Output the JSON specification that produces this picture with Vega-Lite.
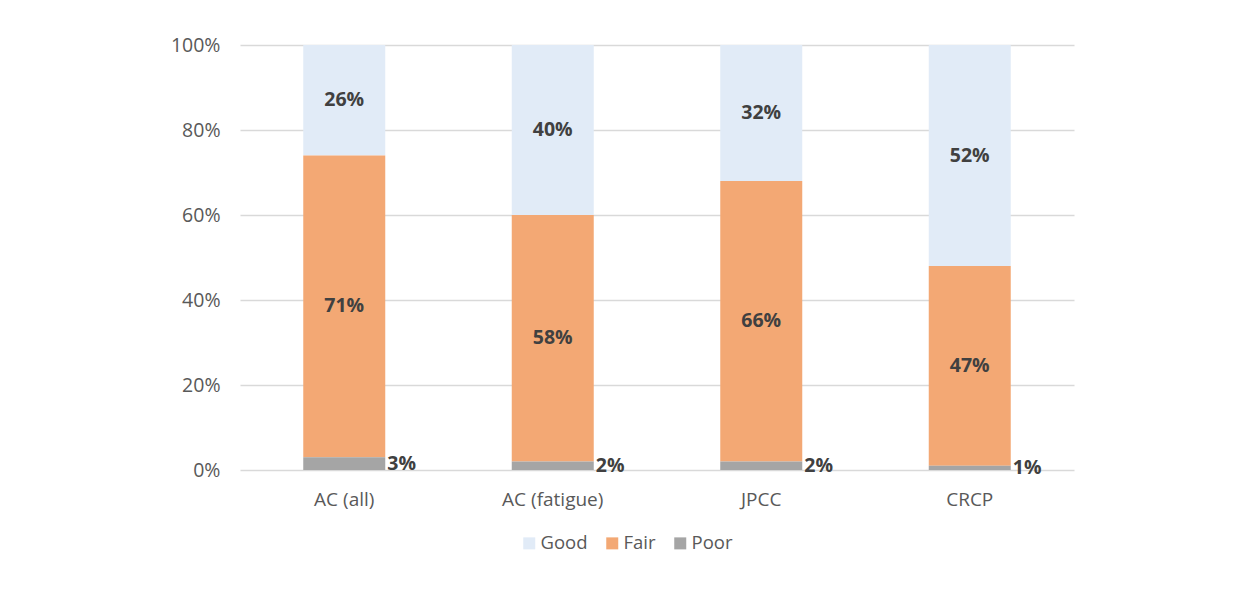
{
  "$schema": "https://vega.github.io/schema/vega-lite/v6.json",
  "width": 834,
  "height": 425,
  "autosize": {"type": "none"},
  "padding": {"left": 240, "top": 45, "right": 175, "bottom": 128},
  "background": "white",
  "config": {"view": {"stroke": null}, "font": "Open Sans"},
  "data": {
    "values": [
      {"type": "AC (all)", "rating": "Good", "share": 0.26, "ord": 3},
      {"type": "AC (all)", "rating": "Fair", "share": 0.71, "ord": 2},
      {"type": "AC (all)", "rating": "Poor", "share": 0.03, "ord": 1},
      {"type": "AC (fatigue)", "rating": "Good", "share": 0.40, "ord": 3},
      {"type": "AC (fatigue)", "rating": "Fair", "share": 0.58, "ord": 2},
      {"type": "AC (fatigue)", "rating": "Poor", "share": 0.02, "ord": 1},
      {"type": "JPCC", "rating": "Good", "share": 0.32, "ord": 3},
      {"type": "JPCC", "rating": "Fair", "share": 0.66, "ord": 2},
      {"type": "JPCC", "rating": "Poor", "share": 0.02, "ord": 1},
      {"type": "CRCP", "rating": "Good", "share": 0.52, "ord": 3},
      {"type": "CRCP", "rating": "Fair", "share": 0.47, "ord": 2},
      {"type": "CRCP", "rating": "Poor", "share": 0.01, "ord": 1}
    ]
  },
  "encoding": {
    "x": {
      "field": "type",
      "type": "nominal",
      "sort": ["AC (all)", "AC (fatigue)", "JPCC", "CRCP"],
      "axis": {
        "title": null,
        "labelAngle": 0,
        "domain": false,
        "ticks": false,
        "labelPadding": 20,
        "labelFontSize": 19,
        "labelColor": "#595959",
        "labelFont": "Open Sans"
      }
    }
  },
  "layer": [
    {
      "mark": {"type": "bar", "size": 82},
      "encoding": {
        "y": {
          "field": "share",
          "type": "quantitative",
          "stack": "zero",
          "scale": {"domain": [0, 1]},
          "axis": {
            "title": null,
            "values": [0, 0.2, 0.4, 0.6, 0.8, 1],
            "format": ".0%",
            "domain": false,
            "ticks": false,
            "labelPadding": 20,
            "labelFontSize": 19.5,
            "labelColor": "#595959",
            "gridColor": "#d9d9d9",
            "gridWidth": 1.3
          }
        },
        "color": {
          "field": "rating",
          "type": "nominal",
          "scale": {"domain": ["Good", "Fair", "Poor"], "range": ["#e1ebf7", "#f3a874", "#a5a5a5"]},
          "legend": {
            "title": null,
            "orient": "none",
            "direction": "horizontal",
            "legendX": 280,
            "legendY": 489,
            "padding": 0,
            "symbolType": "square",
            "symbolSize": 144,
            "symbolStrokeWidth": 0,
            "labelFontSize": 18.5,
            "labelColor": "#595959",
            "labelOffset": 2,
            "columnPadding": 15
          }
        },
        "order": {"field": "ord", "type": "quantitative"}
      }
    },
    {
      "mark": {"type": "text", "fontWeight": "bold", "fontSize": 19.5, "color": "#404040", "baseline": "middle"},
      "encoding": {
        "y": {"field": "share", "type": "quantitative", "stack": "zero", "bandPosition": 0.5},
        "order": {"field": "ord", "type": "quantitative"},
        "text": {"field": "share", "type": "quantitative", "format": ".0%"},
        "opacity": {"condition": {"test": "datum.rating === 'Poor'", "value": 0}, "value": 1}
      }
    },
    {
      "mark": {"type": "text", "fontWeight": "bold", "fontSize": 19.5, "color": "#404040", "baseline": "middle", "align": "left", "dx": 43},
      "encoding": {
        "y": {"field": "share", "type": "quantitative", "stack": "zero", "bandPosition": 0.5},
        "order": {"field": "ord", "type": "quantitative"},
        "text": {"field": "share", "type": "quantitative", "format": ".0%"},
        "opacity": {"condition": {"test": "datum.rating === 'Poor'", "value": 1}, "value": 0}
      }
    }
  ]
}
